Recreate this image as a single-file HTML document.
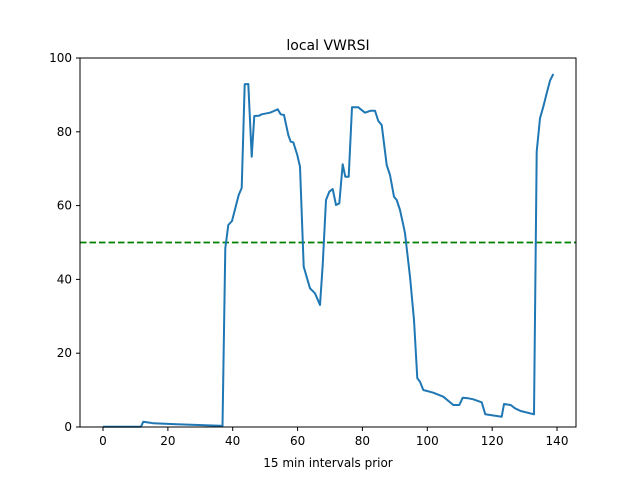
<!DOCTYPE html>
<html><head><style>body{margin:0;background:#fff}svg{display:block}</style></head><body>
<svg width="640" height="480" viewBox="0 0 640 480" xmlns="http://www.w3.org/2000/svg" font-family="'DejaVu Sans', 'Liberation Sans', sans-serif">
<rect width="640" height="480" fill="#fff"/>
<text x="328" y="50" font-size="14" text-anchor="middle">local VWRSI</text>
<line x1="80" y1="242.5" x2="576" y2="242.5" stroke="#008000" stroke-width="1.8" stroke-dasharray="6.5,3"/>
<polyline fill="none" stroke="#1f77b4" stroke-width="2" stroke-linejoin="round" points="103,426.7 141,426.7 143.3,421.7 150,422.7 153.3,423.3 176.7,424.3 220,425.7 222.5,426 225.3,248.3 228.3,225 232,221 238.7,195 241.7,188 244.7,84.3 248.3,84 251.7,156.7 254.3,116 259,115.7 261.7,114.3 270,112.7 274,111 277.7,109.3 280.7,114.3 284,115 288.3,135 290.7,141.7 293.3,142.3 297.3,155 300,166.7 303.7,266.7 310,288.3 315,293.3 320,305 322.7,265 326,200 329.3,191.7 332.7,189 336,205 339.3,203.3 342.7,164.3 345.3,176.7 348.7,176.7 352,107.3 358.3,107.3 365,112.7 370.7,110.7 375,110.7 378.3,121 381.7,125 386.7,165 390,175 394,196.7 396.7,200 400,210 404,228.3 405,233.3 410,276.7 414,320 417.3,378.3 420,381.7 423.3,390 433.3,392.7 443.3,396.7 453.3,405 459.3,405 462.7,397.7 468.3,398.3 473.3,399.3 481.7,402.3 485.3,414.3 501.7,416.7 504,404 510.7,405 515,408.3 520.7,411 534,414.3 536.7,151.7 540,118.3 543.3,106.7 546.7,93.3 550,80.7 553.3,74"/>
<rect x="80" y="58" width="496" height="369" fill="none" stroke="#000" stroke-width="1"/>
<g stroke="#000" stroke-width="1">
<line x1="103" y1="427" x2="103" y2="431"/><line x1="167.9" y1="427" x2="167.9" y2="431"/><line x1="232.7" y1="427" x2="232.7" y2="431"/><line x1="297.6" y1="427" x2="297.6" y2="431"/><line x1="362.4" y1="427" x2="362.4" y2="431"/><line x1="427.3" y1="427" x2="427.3" y2="431"/><line x1="492.2" y1="427" x2="492.2" y2="431"/><line x1="557" y1="427" x2="557" y2="431"/>
<line x1="76" y1="427" x2="80" y2="427"/><line x1="76" y1="353.2" x2="80" y2="353.2"/><line x1="76" y1="279.4" x2="80" y2="279.4"/><line x1="76" y1="205.6" x2="80" y2="205.6"/><line x1="76" y1="131.8" x2="80" y2="131.8"/><line x1="76" y1="58" x2="80" y2="58"/>
</g>
<g font-size="12" text-anchor="middle">
<text x="103" y="445">0</text><text x="167.9" y="445">20</text><text x="232.7" y="445">40</text><text x="297.6" y="445">60</text><text x="362.4" y="445">80</text><text x="427.3" y="445">100</text><text x="492.2" y="445">120</text><text x="557" y="445">140</text>
</g>
<g font-size="12" text-anchor="end">
<text x="72" y="431">0</text><text x="72" y="357.2">20</text><text x="72" y="283.4">40</text><text x="72" y="209.6">60</text><text x="72" y="135.8">80</text><text x="72" y="62">100</text>
</g>
<text x="328" y="467" font-size="12" text-anchor="middle">15 min intervals prior</text>
</svg>
</body></html>
